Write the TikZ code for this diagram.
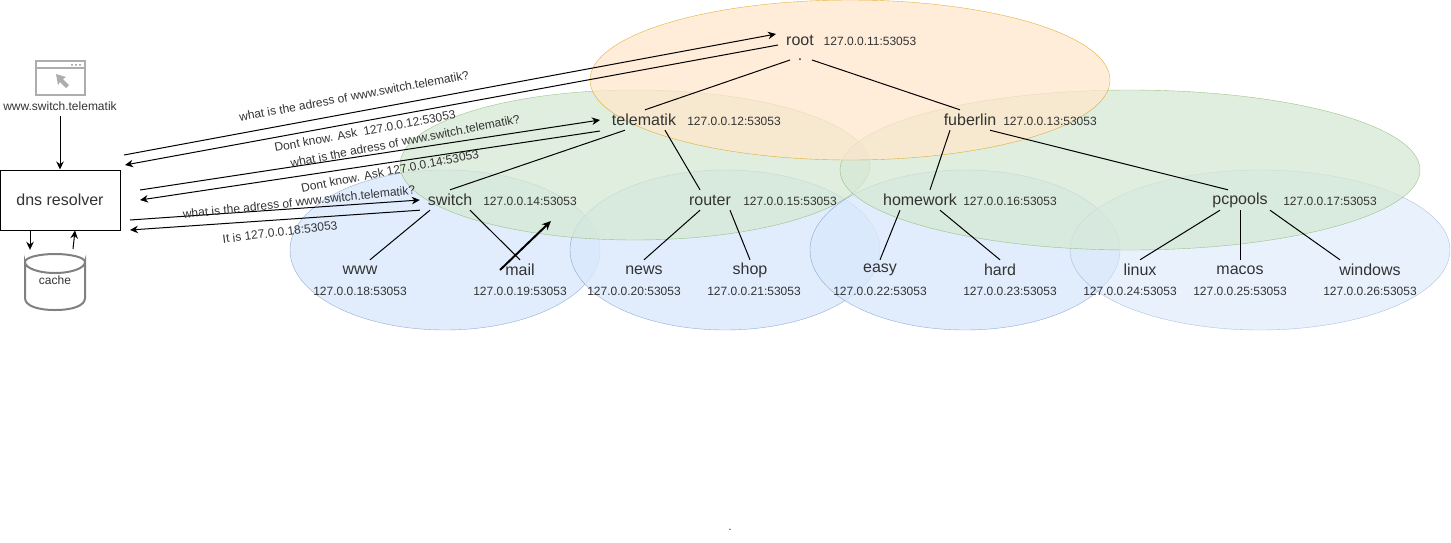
\documentclass[tikz,border=0pt]{standalone}
\usepackage{fontspec}
\setmainfont{Liberation Sans}
\usetikzlibrary{arrows.meta}
\definecolor{txtgray}{HTML}{333333}
\definecolor{orangefill}{HTML}{FFE6CC}
\definecolor{orangeline}{HTML}{D79B00}
\definecolor{greenfill}{HTML}{D5E8D4}
\definecolor{greenline}{HTML}{82B366}
\definecolor{bluefill}{HTML}{DAE8FC}
\definecolor{blueline}{HTML}{6C8EBF}
\definecolor{icongray}{HTML}{ADADAD}
\definecolor{cachegray}{HTML}{808080}
\tikzset{
  dnsname/.style={minimum width=60pt,minimum height=20pt,inner sep=0pt,text=txtgray,font=\fontsize{16}{19}\selectfont},
  addr/.style={inner sep=0pt,text=txtgray,font=\fontsize{12}{14}\selectfont},
  msg/.style={inner sep=0pt,text=txtgray,font=\fontsize{12}{14}\selectfont},
  treeline/.style={draw=black,line width=1pt},
  arr/.style={draw=black,line width=1pt,-{Stealth[length=8pt,width=7.5pt]}},
  orangezone/.style={fill=orangefill,draw=orangeline,fill opacity=0.75,draw opacity=0.75},
  greenzone/.style={fill=greenfill,draw=greenline,fill opacity=0.75,draw opacity=0.75},
  bluezone/.style={fill=bluefill,draw=blueline,fill opacity=0.8,draw opacity=0.7},
  palezone/.style={fill=bluefill,draw=blueline,fill opacity=0.6,draw opacity=0.5},
}
\begin{document}
\begin{tikzpicture}[x=1pt,y=-1pt]
\useasboundingbox (0,0) rectangle (1451,542);
% zones
\draw[bluezone] (445,250) ellipse [x radius=155,y radius=80];
\draw[bluezone] (725,250) ellipse [x radius=155,y radius=80];
\draw[bluezone] (965,250) ellipse [x radius=155,y radius=80];
\draw[palezone] (1260,250) ellipse [x radius=190,y radius=80];
\draw[greenzone] (635,165) ellipse [x radius=235,y radius=75];
\draw[greenzone] (1130,170) ellipse [x radius=290,y radius=80];
\draw[orangezone] (850,80) ellipse [x radius=260,y radius=80];
% names
\node[dnsname] (root) at (800,40) {root};
\node[dnsname] (dot) at (800,60) {.};
\node[dnsname] (telematik) at (644,120) {telematik};
\node[dnsname] (fuberlin) at (970,120) {fuberlin};
\node[dnsname] (switch) at (450,200) {switch};
\node[dnsname] (router) at (710,200) {router};
\node[dnsname] (homework) at (920,200) {homework};
\node[dnsname] (pcpools) at (1240,200) {pcpools};
\node[dnsname] (www) at (360,270) {www};
\node[dnsname] (mail) at (520,270) {mail};
\node[dnsname] (news) at (644,270) {news};
\node[dnsname] (shop) at (750,270) {shop};
\node[dnsname] (easy) at (880,270) {easy};
\node[dnsname] (hard) at (1000,270) {hard};
\node[dnsname] (linux) at (1140,270) {linux};
\node[dnsname] (macos) at (1240,270) {macos};
\node[dnsname] (windows) at (1370,270) {windows};
% addresses
\node[addr] (addrroot) at (870,41) {127.0.0.11:53053};
\node[addr] (addrtelematik) at (734,121) {127.0.0.12:53053};
\node[addr] (addrfuberlin) at (1050,121) {127.0.0.13:53053};
\node[addr] (addrswitch) at (530,201) {127.0.0.14:53053};
\node[addr] (addrrouter) at (790,201) {127.0.0.15:53053};
\node[addr] (addrhomework) at (1010,201) {127.0.0.16:53053};
\node[addr] (addrpcpools) at (1330,201) {127.0.0.17:53053};
\node[addr] (addrwww) at (360,291) {127.0.0.18:53053};
\node[addr] (addrmail) at (520,291) {127.0.0.19:53053};
\node[addr] (addrnews) at (634,291) {127.0.0.20:53053};
\node[addr] (addrshop) at (754,291) {127.0.0.21:53053};
\node[addr] (addreasy) at (880,291) {127.0.0.22:53053};
\node[addr] (addrhard) at (1010,291) {127.0.0.23:53053};
\node[addr] (addrlinux) at (1130,291) {127.0.0.24:53053};
\node[addr] (addrmacos) at (1240,291) {127.0.0.25:53053};
\node[addr] (addrwindows) at (1370,291) {127.0.0.26:53053};
% tree
\draw[treeline] ([xshift=-10pt]dot.center) -- ([xshift=1pt]telematik.north);
\draw[treeline] ([xshift=12pt]dot.center) -- ([xshift=-10pt]fuberlin.north);
\draw[treeline] ([xshift=-19pt]telematik.south) -- (switch.north);
\draw[treeline] ([xshift=21pt]telematik.south) -- ([xshift=-10pt]router.north);
\draw[treeline] ([xshift=-20pt]fuberlin.south) -- ([xshift=10pt]homework.north);
\draw[treeline] ([xshift=20pt]fuberlin.south) -- ([xshift=-12pt]pcpools.north);
\draw[treeline] ([xshift=-20pt]switch.south) -- ([xshift=10pt]www.north);
\draw[treeline] ([xshift=20pt]switch.south) -- (mail.north);
\draw[treeline] ([xshift=-10pt]router.south) -- (news.north);
\draw[treeline] ([xshift=20pt]router.south) -- (shop.north);
\draw[treeline] ([xshift=-20pt]homework.south) -- (easy.north);
\draw[treeline] ([xshift=20pt]homework.south) -- (hard.north);
\draw[treeline] ([xshift=-20pt]pcpools.south) -- (linux.north);
\draw[treeline] (pcpools.south) -- (macos.north);
\draw[treeline] ([xshift=30pt]pcpools.south) -- ([xshift=-30pt]windows.north);
% resolver and browser
\node[draw=black,line width=1pt,minimum width=120pt,minimum height=60pt,inner sep=0pt,text=txtgray,font=\fontsize{16}{19}\selectfont] (resolver) at (60,200) {dns resolver};
\node[msg] (url) at (60,106) {www.switch.telematik};
\draw[icongray,line width=1.5pt] (36,61) rectangle (85,95);
\draw[icongray,line width=1.5pt] (36,68) -- (85,68);
\fill[icongray] (71,64) rectangle (73,65.5) (75,64) rectangle (77,65.5) (79,64) rectangle (81,65.5);
\fill[icongray] (56,74) -- (66,77) -- (63,79) -- (69,85) -- (66,88) -- (60,82) -- (58,85) -- cycle;
\draw[arr] (url) ++(0,10) -- (resolver.north);
% cache
\draw[cachegray,line width=2pt] (25,262) arc [start angle=180,end angle=0,x radius=30,y radius=11] -- (85,298) .. controls (85,306) and (72,310) .. (55,310) .. controls (38,310) and (25,306) .. (25,298) -- cycle;
\draw[cachegray,line width=2pt] (25,262) arc [start angle=180,end angle=360,x radius=30,y radius=8];
\node[minimum width=60pt,minimum height=60pt,inner sep=0pt,text=txtgray,font=\fontsize{12}{14}\selectfont] (cache) at (55,280) {cache};
\draw[arr] ([xshift=-30pt]resolver.south) -- (cache.north -| 30,0);
\coordinate (cacheout) at (73,249);
\draw[arr] (cacheout) -- ([xshift=15pt]resolver.south);
% messages
\coordinate (ask1) at (124,155);
\coordinate (rootin) at (776,34);
\coordinate (rootout) at (778,45);
\coordinate (back1) at (125,165);
\coordinate (ask2) at (140,190);
\coordinate (telein) at (600,120);
\coordinate (teleout) at (600,131);
\coordinate (back2) at (140,200);
\coordinate (ask3) at (130,220);
\coordinate (back3) at (130,230);
\draw[arr] (ask1) -- (rootin);
\draw[arr] (rootout) -- (back1);
\draw[arr] (ask2) -- (telein);
\draw[arr] (teleout) -- (back2);
\draw[arr] (ask3) -- (switch.west);
\draw[arr] (switch.south west) -- (back3);
\node[msg,rotate=10.5] (msg1) at (354,96) {what is the adress of www.switch.telematik?};
\node[msg,rotate=10.5] (msg2) at (365,131) {Dont know. Ask\ \ 127.0.0.12:53053};
\node[msg,rotate=11] (msg3) at (405,141) {what is the adress of www.switch.telematik?};
\node[msg,rotate=11] (msg4) at (390,171) {Dont know. Ask 127.0.0.14:53053};
\node[msg,rotate=6] (msg5) at (299,202) {what is the adress of www.switch.telematik?};
\node[msg,rotate=7] (msg6) at (280,232) {It is 127.0.0.18:53053};
% stray arrow
\coordinate (strayend) at (551,221);
\draw[draw=black,line width=2pt,-{Stealth[length=9pt,width=8pt]}] ([xshift=-20pt]mail.center) -- (strayend);
\node[addr] (stray) at (730,530) {.};
\end{tikzpicture}
\end{document}
